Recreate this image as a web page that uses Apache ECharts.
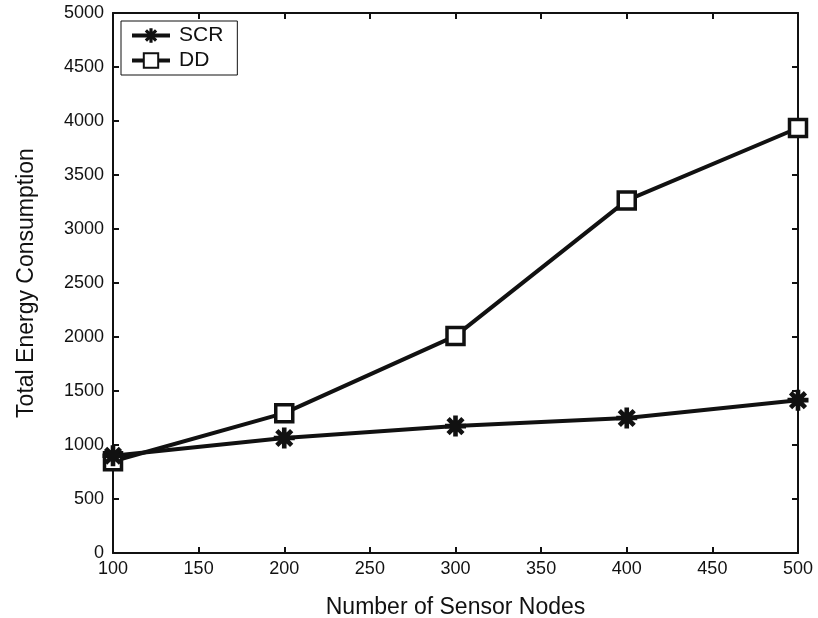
<!DOCTYPE html>
<html>
<head>
<meta charset="utf-8">
<script src="https://cdn.jsdelivr.net/npm/echarts@6/dist/echarts.min.js"></script>
<style>
  html, body { margin: 0; padding: 0; background: #fff; }
  #chart { width: 818px; height: 618px; }
</style>
</head>
<body>
<div id="chart"></div>
<script>
// data
const nodes = [100, 200, 300, 400, 500]
const scrValues = [900, 1065, 1175, 1250, 1415]
const ddValues = [850, 1295, 2010, 3265, 3935]
const xTicks = [100, 150, 200, 250, 300, 350, 400, 450, 500]
const yTicks = [0, 500, 1000, 1500, 2000, 2500, 3000, 3500, 4000, 4500, 5000]

const FONT = 'Liberation Sans, Arial, Helvetica, sans-serif'
const INK = '#111'

// 8 armed asterisk marker
const STAR = 'path://M0 7.8L20 7.8L20 12.2L0 12.2Z' +
  'M7.8 0L12.2 0L12.2 20L7.8 20Z' +
  'M4.49 1.37L18.63 15.51L15.51 18.63L1.37 4.49Z' +
  'M1.37 15.51L15.51 1.37L18.63 4.49L4.49 18.63Z'

const chart = echarts.init(document.getElementById('chart'))

const baseAxis = {
  type: 'value',
  axisLine: { show: true, onZero: false, lineStyle: { color: INK, width: 2 } },
  axisTick: { show: true, inside: true, length: 6, lineStyle: { color: INK, width: 2 } },
  splitLine: { show: false }
}

const option = {
  animation: false,
  backgroundColor: '#fff',
  textStyle: { fontFamily: FONT },
  grid: { left: 113, right: 20, top: 13, bottom: 65, containLabel: false, outerBoundsMode: 'none' },
  legend: {
    left: 121,
    top: 21,
    orient: 'vertical',
    backgroundColor: '#fff',
    borderColor: INK,
    borderWidth: 1,
    borderRadius: 0,
    padding: [4, 14, 4, 9],
    itemGap: 4,
    itemWidth: 38,
    itemHeight: 18,
    lineStyle: { width: 4 },
    textStyle: { fontSize: 21, color: INK, fontFamily: FONT, padding: [0, 0, 0, 4] },
    data: ['SCR', 'DD']
  },
  xAxis: [
    Object.assign({}, baseAxis, {
      position: 'bottom',
      min: 100, max: 500, interval: 50,
      name: 'Number of Sensor Nodes',
      nameLocation: 'middle',
      nameGap: 43,
      nameTextStyle: { fontSize: 23, color: INK, fontFamily: FONT },
      axisLabel: {
        fontSize: 18, color: INK, margin: 7, fontFamily: FONT,
        formatter: v => xTicks.includes(v) ? String(v) : ''
      }
    }),
    Object.assign({}, baseAxis, {
      position: 'top',
      min: 100, max: 500, interval: 50,
      axisLabel: { show: false }
    })
  ],
  yAxis: [
    Object.assign({}, baseAxis, {
      position: 'left',
      min: 0, max: 5000, interval: 500,
      name: 'Total Energy Consumption',
      nameLocation: 'middle',
      nameGap: 75,
      nameTextStyle: { fontSize: 23, color: INK, fontFamily: FONT },
      axisLabel: {
        fontSize: 18, color: INK, margin: 9, fontFamily: FONT,
        formatter: v => yTicks.includes(v) ? String(v) : ''
      }
    }),
    Object.assign({}, baseAxis, {
      position: 'right',
      min: 0, max: 5000, interval: 500,
      axisLabel: { show: false }
    })
  ],
  series: [
    {
      name: 'SCR',
      type: 'line',
      data: nodes.map((n, i) => [n, scrValues[i]]),
      symbol: STAR,
      symbolSize: 21,
      showAllSymbol: true,
      itemStyle: { color: INK, borderWidth: 0 },
      lineStyle: { color: INK, width: 4 },
      z: 3
    },
    {
      name: 'DD',
      type: 'line',
      data: nodes.map((n, i) => [n, ddValues[i]]),
      symbol: 'rect',
      symbolSize: 17,
      showAllSymbol: true,
      itemStyle: { color: '#fff', borderColor: INK, borderWidth: 3.5 },
      lineStyle: { color: INK, width: 4 },
      z: 2
    }
  ]
}

chart.setOption(option)
window.onresize = () => {
  chart.resize()
}
</script>
</body>
</html>
